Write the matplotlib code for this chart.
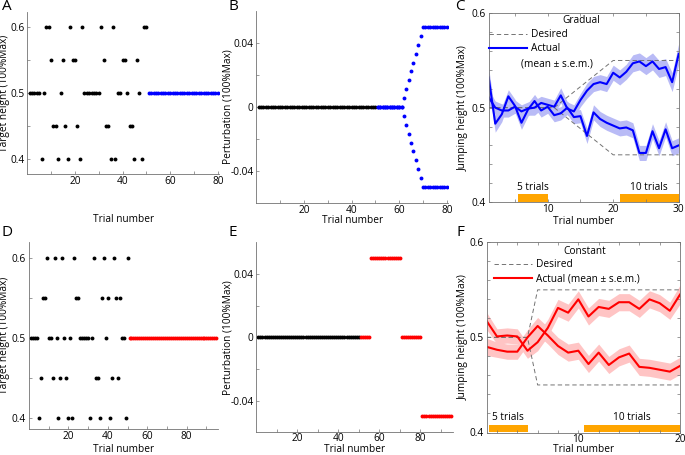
import matplotlib.pyplot as plt
import numpy as np

plt.rcParams['font.family'] = ['Open Sans', 'DejaVu Sans']
plt.rcParams['font.size'] = 7.3

# ---- data ----
# A: target heights, baseline trials 1-50, then 51-80 fixed at 0.5
target_a = [0.5, 0.5, 0.5, 0.5, 0.5, 0.4, 0.5, 0.6, 0.6, 0.55,
            0.45, 0.45, 0.4, 0.5, 0.55, 0.45, 0.4, 0.6, 0.55, 0.55,
            0.45, 0.4, 0.6, 0.5, 0.5, 0.5, 0.5, 0.5, 0.5, 0.5,
            0.6, 0.55, 0.45, 0.45, 0.4, 0.6, 0.4, 0.5, 0.5, 0.55,
            0.55, 0.5, 0.45, 0.45, 0.4, 0.55, 0.5, 0.4, 0.6, 0.6]
test_a = [0.5] * 30

# D: target heights, baseline trials 1-50, then 51-95 fixed at 0.5
target_d = [0.5, 0.5, 0.5, 0.5, 0.4, 0.45, 0.55, 0.55, 0.6, 0.5,
            0.5, 0.45, 0.6, 0.5, 0.4, 0.45, 0.6, 0.5, 0.45, 0.4,
            0.5, 0.4, 0.6, 0.55, 0.55, 0.5, 0.5, 0.5, 0.5, 0.5,
            0.4, 0.5, 0.6, 0.45, 0.45, 0.4, 0.55, 0.6, 0.5, 0.55,
            0.4, 0.45, 0.6, 0.55, 0.45, 0.55, 0.5, 0.5, 0.4, 0.6]
test_d = [0.5] * 45

# B: gradual perturbation, trials 51-80
baseline_pert = [0.0] * 50
ramp = [0.0056, 0.0111, 0.0167, 0.0222, 0.0278, 0.0333, 0.0389, 0.0444]
pert_b_up = [0.0] * 11 + ramp + [0.05] * 11
pert_b_down = [0.0] * 11 + [-r for r in ramp] + [-0.05] * 11

# E: constant perturbation, trials 51-95
pert_e = [0.0] * 5 + [0.05] * 15 + [0.0] * 10 + [-0.05] * 15

# C: gradual, jumping height mean and s.e.m.
trial_c = list(range(1, 31))
c_up = [0.511, 0.500, 0.497, 0.497, 0.501, 0.496, 0.499, 0.500, 0.505, 0.503,
        0.501, 0.513, 0.499, 0.496, 0.508, 0.518, 0.525, 0.527, 0.525, 0.537,
        0.532, 0.538, 0.547, 0.549, 0.544, 0.549, 0.541, 0.543, 0.527, 0.557]
c_up_sem = [0.008, 0.007, 0.007, 0.007, 0.007, 0.007, 0.007, 0.008, 0.007, 0.007,
            0.007, 0.008, 0.007, 0.007, 0.007, 0.008, 0.008, 0.008, 0.008, 0.008,
            0.008, 0.008, 0.009, 0.009, 0.009, 0.009, 0.009, 0.009, 0.010, 0.011]
c_low = [0.532, 0.483, 0.493, 0.512, 0.502, 0.484, 0.498, 0.507, 0.497, 0.501,
         0.492, 0.494, 0.500, 0.490, 0.491, 0.470, 0.495, 0.488, 0.484, 0.481,
         0.478, 0.479, 0.476, 0.452, 0.452, 0.475, 0.457, 0.477, 0.457, 0.460]
c_low_sem = [0.010, 0.009, 0.008, 0.007, 0.007, 0.007, 0.007, 0.007, 0.007, 0.007,
             0.007, 0.007, 0.007, 0.007, 0.007, 0.008, 0.008, 0.008, 0.008, 0.008,
             0.008, 0.008, 0.008, 0.008, 0.008, 0.008, 0.008, 0.008, 0.008, 0.008]
c_des_x = [1, 11, 20, 30]
c_des_up = [0.5, 0.5, 0.55, 0.55]
c_des_low = [0.5, 0.5, 0.45, 0.45]

# F: constant, jumping height mean and s.e.m.
trial_f = list(range(1, 21))
f_up = [0.517, 0.501, 0.502, 0.501, 0.486, 0.495, 0.510, 0.531, 0.526, 0.540,
        0.522, 0.532, 0.530, 0.537, 0.537, 0.530, 0.540, 0.536, 0.528, 0.545]
f_up_sem = [0.009, 0.008, 0.008, 0.008, 0.008, 0.009, 0.009, 0.009, 0.009, 0.009,
            0.009, 0.009, 0.009, 0.009, 0.009, 0.009, 0.009, 0.009, 0.009, 0.010]
f_low = [0.490, 0.487, 0.485, 0.485, 0.500, 0.512, 0.502, 0.491, 0.484, 0.486,
         0.472, 0.484, 0.471, 0.479, 0.483, 0.469, 0.468, 0.466, 0.464, 0.470]
f_low_sem = [0.009, 0.008, 0.008, 0.008, 0.008, 0.009, 0.009, 0.009, 0.009, 0.009,
             0.009, 0.009, 0.009, 0.009, 0.009, 0.009, 0.009, 0.009, 0.009, 0.009]
f_des_x = [1, 5, 6, 20]
f_des_up = [0.5, 0.5, 0.55, 0.55]
f_des_low = [0.5, 0.5, 0.45, 0.45]

# orange "5 trials" / "10 trials" bars
c_bars = [(5.5, 10.0, '5 trials'), (21.0, 30.0, '10 trials')]
f_bars = [(1.2, 5.05, '5 trials'), (10.6, 20.0, '10 trials')]

blue = '#0000ff'
red = '#ff0000'
orange = '#ffa500'
gray = '0.45'

fig = plt.figure(figsize=(6.85, 4.55), dpi=100)


def box(l, r, t, b):
    # pixel box -> figure fraction
    return [l / 685, 1 - b / 455, (r - l) / 685, (b - t) / 455]


def style(ax, boxed=False):
    for s in ax.spines.values():
        s.set_color(gray)
        s.set_linewidth(0.6)
    if not boxed:
        ax.spines['top'].set_visible(False)
        ax.spines['right'].set_visible(False)
    ax.tick_params(direction='in', length=2.5, width=0.5, color=gray,
                   labelcolor='black', pad=2, top=boxed, right=boxed)
    ax.tick_params(axis='x', pad=1.2)


def labels(vals, show):
    return [('%g' % v if v in show else '') for v in vals]


axA = fig.add_axes(box(27.3, 219.0, 11.7, 174.3))
axB = fig.add_axes(box(256.3, 448.0, 11.0, 203.0))
axC = fig.add_axes(box(488.7, 678.7, 13.3, 202.0))
axD = fig.add_axes(box(28.9, 218.3, 241.7, 429.0))
axE = fig.add_axes(box(256.3, 453.1, 242.3, 432.3))
axF = fig.add_axes(box(486.8, 680.0, 242.3, 432.5))

ms = 2.8

# ---- A / D: target heights ----
for ax, tgt, test, col, n in [(axA, target_a, test_a, blue, 80.5),
                              (axD, target_d, test_d, red, 96)]:
    style(ax)
    base_x = np.arange(1, len(tgt) + 1)
    test_x = np.arange(len(tgt) + 1, len(tgt) + len(test) + 1)
    ax.plot(base_x, tgt, 'o', color='black', ms=ms, mew=0)
    ax.plot(test_x, test, 'o', color=col, ms=ms, mew=0)
    ax.set_xlim(0, n)
    ax.set_yticks([0.4, 0.45, 0.5, 0.55, 0.6])
    ax.set_yticklabels(['0.4', '', '0.5', '', '0.6'])
    xt = list(range(10, int(n) + 1, 10))
    ax.set_xticks(xt)
    ax.set_xticklabels(labels(xt, [20, 40, 60, 80]))
    ax.set_ylabel('Target height (100%Max)')
    ax.set_xlabel('Trial number')

axA.set_ylim(0.3773, 0.6236)
axD.set_ylim(0.3862, 0.620)
axA.yaxis.set_label_coords(-0.090, 0.5)
axD.yaxis.set_label_coords(-0.100, 0.5)
axA.xaxis.set_label_coords(0.5, -0.244)
axD.xaxis.set_label_coords(0.5, -0.078)

# ---- B / E: perturbations ----
style(axB)
axB.plot(np.arange(1, 51), baseline_pert, 'o', color='black', ms=ms, mew=0)
tb = np.arange(51, 51 + len(pert_b_up))
axB.plot(tb, pert_b_up, 'o', color=blue, ms=ms, mew=0)
axB.plot(tb, pert_b_down, 'o', color=blue, ms=ms, mew=0)
axB.set_xlim(0, 80.5)

style(axE)
axE.plot(np.arange(1, 51), baseline_pert, 'o', color='black', ms=ms, mew=0)
te = np.arange(51, 51 + len(pert_e))
axE.plot(te, pert_e, 'o', color=red, ms=ms, mew=0)
axE.set_xlim(0, 96)

for ax in (axB, axE):
    ax.set_ylim(-0.06, 0.06)
    ax.set_yticks([-0.04, -0.02, 0, 0.02, 0.04])
    ax.set_yticklabels(['-0.04', '', '0', '', '0.04'])
    xt = list(range(10, int(ax.get_xlim()[1]) + 1, 10))
    ax.set_xticks(xt)
    ax.set_xticklabels(labels(xt, [20, 40, 60, 80]))
    ax.set_ylabel('Perturbation (100%Max)')
    ax.set_xlabel('Trial number')
axE.tick_params(axis='x', pad=0.8)
axB.yaxis.set_label_coords(-0.120, 0.5)
axE.yaxis.set_label_coords(-0.117, 0.5)
axB.xaxis.set_label_coords(0.5, -0.063)
axE.xaxis.set_label_coords(0.5, -0.061)

# ---- C / F: jumping height ----
for ax, t, up, up_s, low, low_s, dx, dup, dlow, col, band, bars in [
        (axC, trial_c, c_up, c_up_sem, c_low, c_low_sem, c_des_x, c_des_up,
         c_des_low, blue, '#b9bbf6', c_bars),
        (axF, trial_f, f_up, f_up_sem, f_low, f_low_sem, f_des_x, f_des_up,
         f_des_low, red, '#ffc4c4', f_bars)]:
    style(ax, boxed=True)
    up = np.array(up)
    low = np.array(low)
    ax.fill_between(t, up - up_s, up + up_s, color=band, lw=0)
    ax.fill_between(t, low - low_s, low + low_s, color=band, lw=0)
    ax.plot(dx, dup, color=gray, lw=0.7, dashes=(4.5, 3))
    ax.plot(dx, dlow, color=gray, lw=0.7, dashes=(4.5, 3))
    ax.plot(t, up, color=col, lw=1.5)
    ax.plot(t, low, color=col, lw=1.5)
    for x0, x1, txt in bars:
        ax.fill_between([x0, x1], 0.4, 0.408, color=orange, lw=0)
        ax.text((x0 + x1) / 2, 0.4155, txt, ha='center', va='center')
    ax.set_xlim(t[0], t[-1])
    ax.set_ylim(0.4, 0.6)
    yt = np.round(np.arange(0.4, 0.601, 0.02), 2)
    ax.set_yticks(yt)
    ax.set_yticklabels(labels(yt, [0.4, 0.5, 0.6]))
    ax.set_ylabel('Jumping height (100%Max)')
    ax.set_xlabel('Trial number')

axC.set_xticks([5, 10, 15, 20, 25, 30])
axC.set_xticklabels(['', '10', '', '20', '', '30'])
axF.set_xticks(list(range(2, 21, 2)))
axF.set_xticklabels(labels(list(range(2, 21, 2)), [10, 20]))
axC.yaxis.set_label_coords(-0.107, 0.5)
axF.yaxis.set_label_coords(-0.096, 0.5)
axC.xaxis.set_label_coords(0.5, -0.072)
axF.xaxis.set_label_coords(0.5, -0.060)

# legends
axC.text(0.489, 0.963, 'Gradual', transform=axC.transAxes, ha='center', va='center')
axC.legend(axC.get_lines()[0:3:2], ['Desired', 'Actual'], loc='upper left',
           bbox_to_anchor=(0.0, 0.915), frameon=False, handlelength=3.8,
           handletextpad=0.4, borderaxespad=0, borderpad=0, labelspacing=0.3)
axC.text(0.17, 0.733, '(mean \u00b1 s.e.m.)', transform=axC.transAxes, va='center')

axF.text(0.508, 0.951, 'Constant', transform=axF.transAxes, ha='center', va='center')
axF.legend(axF.get_lines()[0:3:2], ['Desired', 'Actual (mean \u00b1 s.e.m.)'],
           loc='upper left', bbox_to_anchor=(0.035, 0.91), frameon=False,
           handlelength=3.8, handletextpad=0.4, borderaxespad=0, borderpad=0,
           labelspacing=0.3)

# panel letters
for letter, x, y in [('A', 7, 7), ('B', 233, 7), ('C', 460, 6),
                     ('D', 7, 233), ('E', 233, 233), ('F', 460, 233)]:
    fig.text(x / 685, 1 - y / 455, letter, fontsize=11, ha='center', va='center')

fig.savefig('out.png', dpi=100)
